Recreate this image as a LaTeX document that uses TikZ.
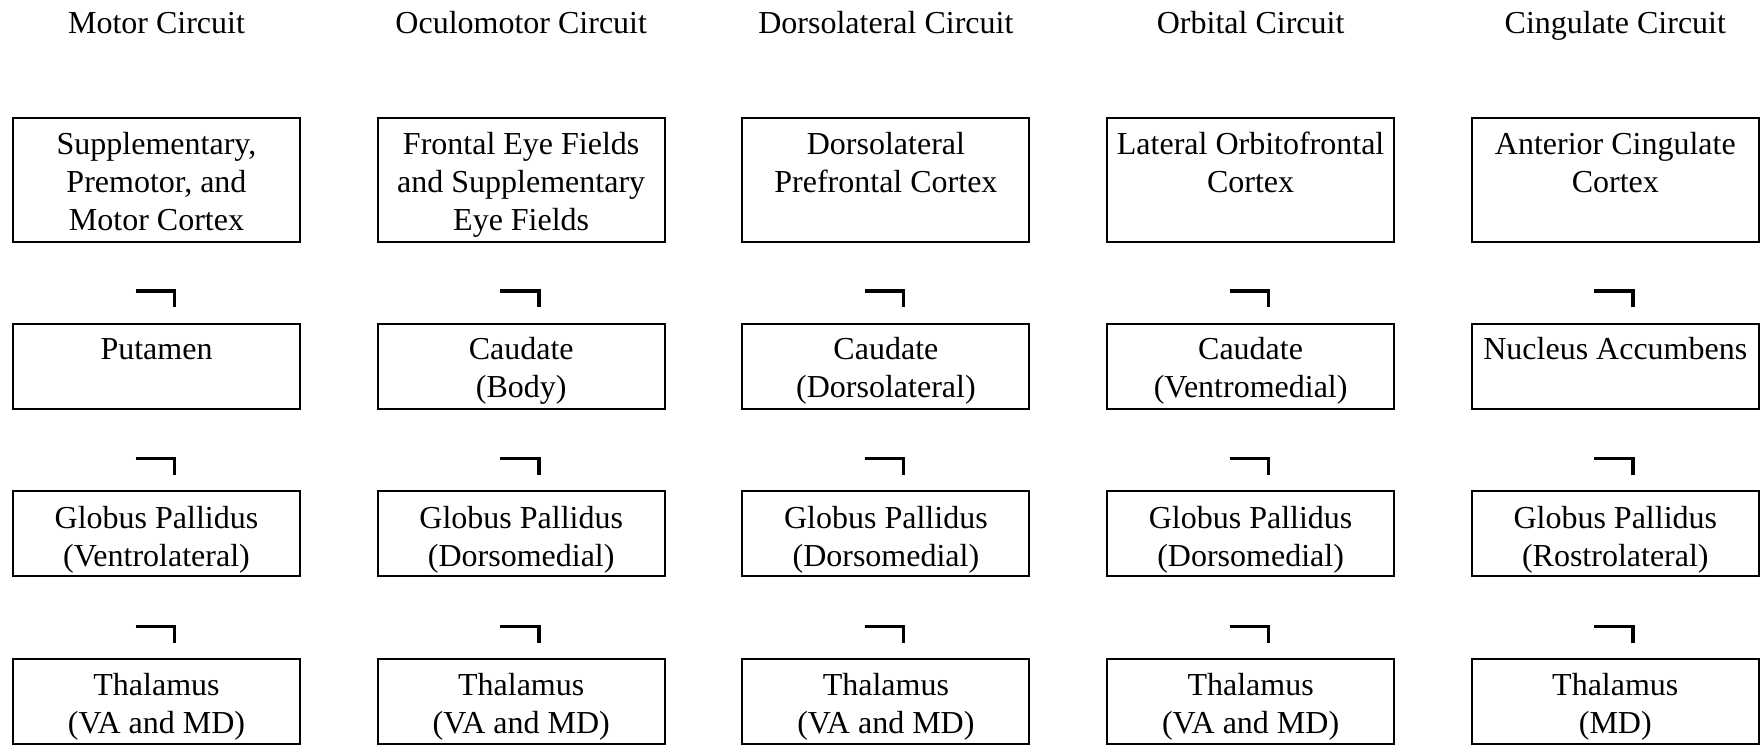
\documentclass[tikz,border=0pt]{standalone}
\usepackage{fontspec}
\setmainfont{Liberation Serif}
\usetikzlibrary{calc}
\newcommand\mlines[1]{\begin{tabular}[t]{@{}c@{}}#1\end{tabular}}
\begin{document}
\begin{tikzpicture}[x=0.5pt,y=-0.5pt,
  box/.style={draw,line width=1pt,inner sep=0pt,minimum width=143.5pt},
  lbl/.style={anchor=base,inner sep=0pt,font=\rmfamily\fontsize{16pt}{19pt}\selectfont},
  hookline/.style={line width=1.75pt}]
\useasboundingbox (0,0) rectangle (1760,745);
% boxes
\foreach \r/\cy/\h in {1/179.85/123.7, 2/366.2/85, 3/533.6/85.3, 4/701.8/85}
  \foreach \c in {1,...,5}
    \node[box,minimum height=\h*0.5pt] (b\r\c) at ({156.5+(\c-1)*364.7},\cy) {};
% titles
\node[lbl] (h1) at (156.5,33.3) {Motor Circuit};
\node[lbl] (h2) at (521.2,33.3) {Oculomotor Circuit};
\node[lbl] (h3) at (885.9,33.3) {Dorsolateral Circuit};
\node[lbl] (h4) at (1250.6,33.3) {Orbital Circuit};
\node[lbl] (h5) at (1615.3,33.3) {Cingulate Circuit};
% row 1
\node[lbl] (t11) at ($(b11.north)+(0,37)$) {\mlines{Supplementary,\\Premotor, and\\Motor Cortex}};
\node[lbl] (t12) at ($(b12.north)+(0,37)$) {\mlines{Frontal Eye Fields\\and Supplementary\\Eye Fields}};
\node[lbl] (t13) at ($(b13.north)+(0,37)$) {\mlines{Dorsolateral\\Prefrontal Cortex}};
\node[lbl] (t14) at ($(b14.north)+(0,37)$) {\mlines{Lateral Orbitofrontal\\Cortex}};
\node[lbl] (t15) at ($(b15.north)+(0,37)$) {\mlines{Anterior Cingulate\\Cortex}};
% row 2
\node[lbl] (t21) at ($(b21.north)+(0,37.2)$) {\mlines{Putamen}};
\node[lbl] (t22) at ($(b22.north)+(0,37.2)$) {\mlines{Caudate\\(Body)}};
\node[lbl] (t23) at ($(b23.north)+(0,37.2)$) {\mlines{Caudate\\(Dorsolateral)}};
\node[lbl] (t24) at ($(b24.north)+(0,37.2)$) {\mlines{Caudate\\(Ventromedial)}};
\node[lbl] (t25) at ($(b25.north)+(0,37.2)$) {\mlines{Nucleus Accumbens}};
% row 3
\node[lbl] (t31) at ($(b31.north)+(0,38.8)$) {\mlines{Globus Pallidus\\(Ventrolateral)}};
\node[lbl] (t32) at ($(b32.north)+(0,38.8)$) {\mlines{Globus Pallidus\\(Dorsomedial)}};
\node[lbl] (t33) at ($(b33.north)+(0,38.8)$) {\mlines{Globus Pallidus\\(Dorsomedial)}};
\node[lbl] (t34) at ($(b34.north)+(0,38.8)$) {\mlines{Globus Pallidus\\(Dorsomedial)}};
\node[lbl] (t35) at ($(b35.north)+(0,38.8)$) {\mlines{Globus Pallidus\\(Rostrolateral)}};
% row 4
\node[lbl] (t41) at ($(b41.north)+(0,37.5)$) {\mlines{Thalamus\\(VA and MD)}};
\node[lbl] (t42) at ($(b42.north)+(0,37.5)$) {\mlines{Thalamus\\(VA and MD)}};
\node[lbl] (t43) at ($(b43.north)+(0,37.5)$) {\mlines{Thalamus\\(VA and MD)}};
\node[lbl] (t44) at ($(b44.north)+(0,37.5)$) {\mlines{Thalamus\\(VA and MD)}};
\node[lbl] (t45) at ($(b45.north)+(0,37.5)$) {\mlines{Thalamus\\(MD)}};
% inhibition marks between rows
\foreach \r in {2,3,4}
  \foreach \c in {1,...,5}
    \draw[hookline] ($(b\r\c.north)+(-21,-31.7)$) -- ++(38.75,0) -- ++(0,16.3);
\end{tikzpicture}
\end{document}
